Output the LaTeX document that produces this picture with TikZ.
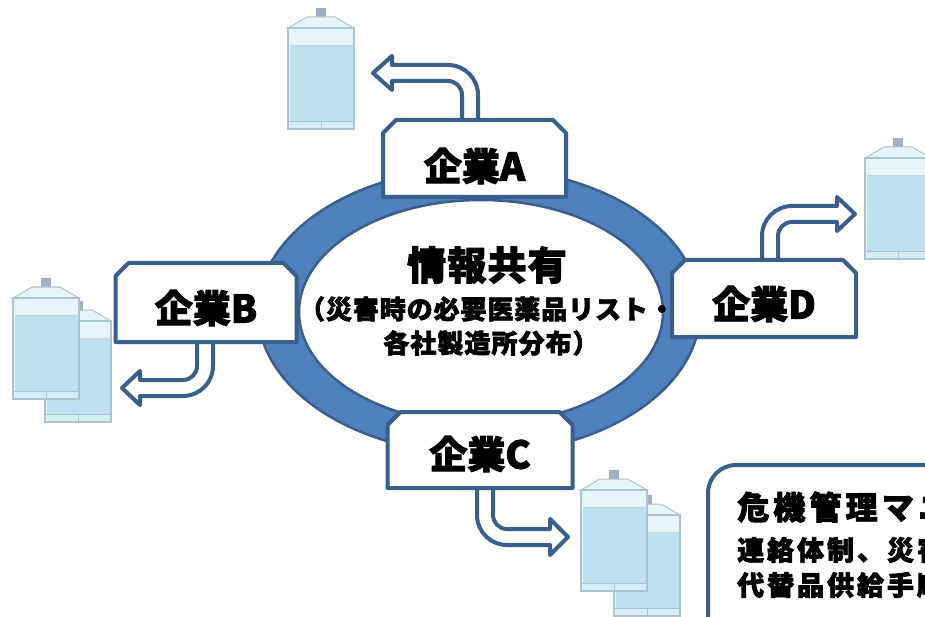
\documentclass[tikz,border=0pt]{standalone}
\usepackage{fontspec}
\newfontfamily\jpfont{Noto Sans CJK JP}[BoldFeatures={FakeBold=2.5}]
\pgfdeclarelayer{ringlayer}
\pgfdeclarelayer{boxlayer}
\pgfsetlayers{ringlayer,boxlayer,main}

\definecolor{ringblue}{RGB}{79,129,189}
\definecolor{edgeblue}{RGB}{58,95,140}
\definecolor{liquid}{RGB}{188,226,240}
\definecolor{bagtop}{RGB}{230,243,248}
\definecolor{bagedge}{RGB}{172,195,208}
\definecolor{capgray}{RGB}{158,176,194}

\tikzset{
  boxline/.style={fill=white, draw=edgeblue, line width=4pt, line join=round},
  bentarrow/.style={fill=white, draw=edgeblue, line width=4pt, line join=round},
  firmlabel/.style={font=\jpfont\bfseries\fontsize{38}{40}\selectfont, inner sep=0pt},
  infotext/.style={font=\jpfont\bfseries, inner sep=0pt, text=black},
  bag/.pic={
    \fill[capgray] (29,3) rectangle (39,12);
    \filldraw[fill=bagtop, draw=bagedge, line width=1pt] (1,23) -- (20,12) -- (48,12) -- (67,23) -- cycle;
    \filldraw[fill=bagtop, draw=bagedge, line width=1.4pt] (1,23) rectangle (67,124);
    \fill[liquid] (2.5,40) rectangle (65.5,116);
    \draw[bagedge!70, line width=0.8pt] (2.5,40) -- (65.5,40);
    \fill[bagtop!60!liquid] (2.5,116.8) rectangle (65.5,123.2);
    \draw[bagedge, line width=0.8pt] (1,116) -- (67,116);
    \draw[bagedge, line width=1pt] (34,116) -- (34,124);
  }
}

% chamfered frame around a label node:
% #1 node, #2 half width, #3 distance above centre, #4 distance below centre, #5 chamfer
\newcommand\snipframe[5]{%
  \draw[boxline]
    ([shift={({-#2},{#4})}]#1.center) --
    ([shift={({-#2},{-#3+#5})}]#1.center) --
    ([shift={({-#2+#5},{-#3})}]#1.center) --
    ([shift={({#2-#5},{-#3})}]#1.center) --
    ([shift={({#2},{-#3+#5})}]#1.center) --
    ([shift={({#2},{#4})}]#1.center) -- cycle;}

\begin{document}
\begin{tikzpicture}[x=1pt, y=-1pt]
\useasboundingbox (0,0) rectangle (925,617);

% --- central ring ---
\begin{pgfonlayer}{ringlayer}
  \filldraw[fill=ringblue, draw=edgeblue, line width=2.5pt] (479,311) ellipse [x radius=221, y radius=143];
  \filldraw[fill=white, draw=edgeblue, line width=2.5pt] (481,312) ellipse [x radius=182, y radius=112];
\end{pgfonlayer}

\node[infotext, font=\jpfont\bfseries\fontsize{39}{40}\selectfont\addfontfeature{LetterSpace=3}] (share) at (487,265) {情報共有};
\node[infotext, font=\jpfont\bfseries\fontsize{26}{27}\selectfont\addfontfeature{LetterSpace=3.5}] (detail1) at (487,309) {（災害時の必要医薬品リスト・};
\node[infotext, font=\jpfont\bfseries\fontsize{26}{27}\selectfont\addfontfeature{LetterSpace=4}] (detail2) at (491,343) {各社製造所分布）};

% --- company labels ---
\node[firmlabel] (firmA) at (474.5,166) {企業A};
\node[firmlabel] (firmB) at (206,308) {企業B};
\node[firmlabel] (firmD) at (764,304) {企業D};
\node[firmlabel] (firmC) at (480,454) {企業C};

\begin{pgfonlayer}{boxlayer}
  % bent outline arrows leaving each company
  \path[bentarrow] (478,122) -- (478,95) arc[start angle=0, end angle=-90, radius=30]
    -- (392,65) -- (392,56) -- (373,73) -- (392,90) -- (392,81) -- (448,81)
    arc[start angle=-90, end angle=0, radius=14] -- (462,122);
  \path[bentarrow] (213,340) -- (213,366) arc[start angle=0, end angle=90, radius=30]
    -- (140,396) -- (140,405) -- (122,388) -- (140,371) -- (140,380) -- (183,380)
    arc[start angle=90, end angle=0, radius=14] -- (197,340);
  \path[bentarrow] (477,486) -- (477,515) arc[start angle=180, end angle=90, radius=30]
    -- (550,545) -- (550,555) -- (568,537) -- (550,519) -- (550,529) -- (507,529)
    arc[start angle=90, end angle=180, radius=14] -- (493,486);
  \path[bentarrow] (762,262) -- (762,236) arc[start angle=180, end angle=270, radius=30]
    -- (837,206) -- (837,197) -- (855,214) -- (837,231) -- (837,222) -- (792,222)
    arc[start angle=270, end angle=180, radius=14] -- (778,262);

  \snipframe{firmA}{91.5}{46}{31}{13}
  \snipframe{firmB}{90.5}{45}{34}{13}
  \snipframe{firmD}{92}{44}{33}{13}
  \snipframe{firmC}{92.5}{42}{34}{13}
\end{pgfonlayer}

% --- drug containers ---
\pic at (287,5) {bag};
\pic at (44,298) {bag};
\pic at (12,275) {bag};
\pic at (864,135) {bag};
\pic at (613,492) {bag};
\pic at (580,467) {bag};

% --- crisis manual panel ---
\draw[fill=white, draw=edgeblue, line width=4pt, rounded corners=28pt] (708,465) rectangle (980,660);
\node[infotext, anchor=west, font=\jpfont\bfseries\fontsize{32}{34}\selectfont\addfontfeature{LetterSpace=13}] (manual1) at (737,507) {危機管理マニュアル};
\node[infotext, anchor=west, font=\jpfont\bfseries\fontsize{27}{28}\selectfont\addfontfeature{LetterSpace=11}] (manual2) at (737,550) {連絡体制、災害時対応};
\node[infotext, anchor=west, font=\jpfont\bfseries\fontsize{27}{28}\selectfont\addfontfeature{LetterSpace=11}] (manual3) at (737,585) {代替品供給手順};
\end{tikzpicture}
\end{document}
